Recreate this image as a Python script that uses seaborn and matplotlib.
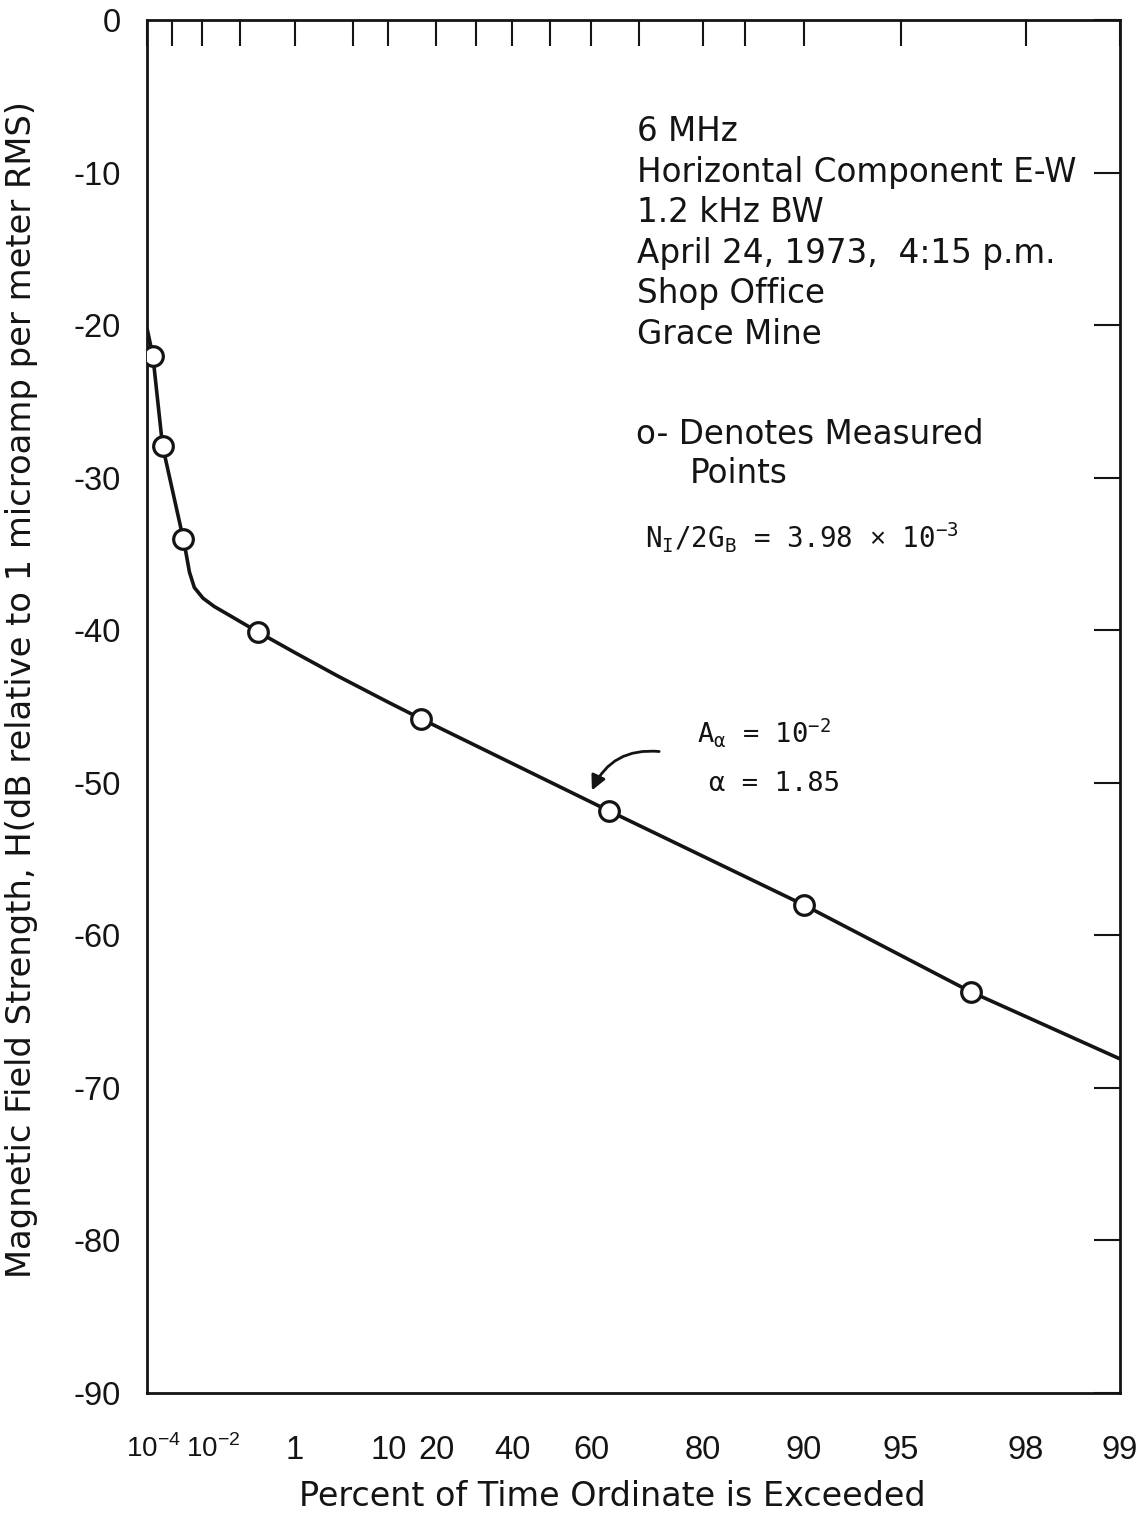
import numpy as np
import pandas as pd
import matplotlib
matplotlib.use("Agg")
import matplotlib.pyplot as plt
import matplotlib.transforms as mtransforms
import seaborn as sns

# ---- data -------------------------------------------------------------
# measured amplitude-probability points (percent of time exceeded, dB)
pct_measured = [1.8e-4, 4.5e-4, 2.6e-3, 0.23, 16.4, 64, 90, 97]
db_measured = [-22.0, -27.9, -34.0, -40.1, -45.8, -51.85, -58.0, -63.7]

# fitted APD curve
pct_curve = [1e-4, 1.8e-4, 4.5e-4, 2.6e-3, 3.2e-3, 4.2e-3, 6.0e-3, 1.1e-2,
             2.3e-2, 5.1e-2, 0.104, 0.23, 1, 3.5, 10, 16.4, 64, 90, 97, 99]
db_curve = [-20.2, -22.0, -27.9, -34.0, -34.9, -36.2, -37.2, -37.9,
            -38.45, -38.96, -39.47, -40.1, -41.47, -43.0, -44.72, -45.8,
            -51.85, -58.0, -63.7, -68.1]

# axis ticks
x_ticks = [1e-4, 1e-3, 1e-2, 1e-1, 1, 5, 10, 20, 30, 40, 50, 60, 70,
           80, 85, 90, 95, 98, 99]
x_labels = {1e-4: r"$10^{-4}$", 1e-2: r"$10^{-2}$", 1: "1", 10: "10",
            20: "20", 40: "40", 60: "60", 80: "80", 90: "90", 95: "95",
            98: "98", 99: "99"}
y_ticks = [0, -10, -20, -30, -40, -50, -60, -70, -80, -90]

info_lines = ["6 MHz", "Horizontal Component E-W", "1.2 kHz BW",
              "April 24, 1973,  4:15 p.m.", "Shop Office", "Grace Mine"]

# ---- style ------------------------------------------------------------
sns.set_style("white")
TICKFONT = "Liberation Sans"
plt.rcParams["font.family"] = ["DejaVu Sans"]
plt.rcParams["mathtext.fontset"] = "custom"
plt.rcParams["mathtext.rm"] = TICKFONT
plt.rcParams["mathtext.tt"] = "DejaVu Sans Mono"
plt.rcParams["mathtext.it"] = "DejaVu Sans Mono"

INK = "#141414"
W, H = 1141, 1513


def fx(px):
    return px / W


def fy(py):
    return 1 - py / H


# Rayleigh (log-log) probability scale for percent of time exceeded
def rayleigh_fwd(p):
    p = np.clip(np.asarray(p, dtype=float), 1e-12, 100 - 1e-9)
    return -np.log(-np.log(p / 100.0))


def rayleigh_inv(t):
    return 100.0 * np.exp(-np.exp(-np.asarray(t, dtype=float)))


fig = plt.figure(figsize=(W / 100, H / 100), dpi=100)
ax = fig.add_axes([fx(147), fy(1393), fx(1120 - 147), (1393 - 20) / H])
ax.set_xscale("function", functions=(rayleigh_fwd, rayleigh_inv))

curve = pd.DataFrame({"pct": pct_curve, "db": db_curve})
meas = pd.DataFrame({"pct": pct_measured, "db": db_measured})

sns.lineplot(data=curve, x="pct", y="db", ax=ax, color=INK, linewidth=2.6,
             sort=False, estimator=None)
sns.scatterplot(data=meas, x="pct", y="db", ax=ax, marker="o", s=200,
                facecolor="white", edgecolor=INK, linewidth=2.3, zorder=5)

ax.set_xlim(1e-4, 99)
ax.set_ylim(-90, 0)

ax.set_xticks(x_ticks)
ax.set_xticklabels([x_labels.get(t, "") for t in x_ticks])
ax.set_yticks(y_ticks)
ax.set_yticklabels([str(v) for v in y_ticks])
ax.minorticks_off()

ax.tick_params(axis="both", direction="in", length=19, width=1.5,
               color=INK, top=True, right=True)
ax.tick_params(axis="x", labelsize=23.5, pad=30, labelcolor=INK)
ax.tick_params(axis="y", labelsize=23.5, pad=19, labelcolor=INK)
for lab in ax.get_xticklabels() + ax.get_yticklabels():
    lab.set_fontfamily(TICKFONT)

# power-of-ten labels sit a little right of their ticks
shifts = {1e-4: 6, 1e-2: 12}
for t, lab in zip(x_ticks, ax.get_xticklabels()):
    if t in shifts:
        lab.set_fontsize(20)
        lab.set_transform(lab.get_transform() + mtransforms.ScaledTranslation(
            shifts[t] / 100, 0, fig.dpi_scale_trans))

for s in ax.spines.values():
    s.set_visible(True)
    s.set_linewidth(2.0)
    s.set_color(INK)

ax.set_xlabel("")
ax.set_ylabel("")

# axis titles
fig.text(fx(612), fy(1506), "Percent of Time Ordinate is Exceeded",
         ha="center", va="baseline", fontsize=24, color=INK)
fig.text(fx(22), fy(689),
         "Magnetic Field Strength, H(dB relative to 1 microamp per meter RMS)",
         ha="center", va="center", rotation=90, fontsize=24.3, color=INK)

# measurement conditions
for i, line in enumerate(info_lines):
    fig.text(fx(637), fy(141 + i * 40.6), line, ha="left", va="baseline",
             fontsize=23.5, color=INK)

fig.text(fx(636), fy(444), "o- Denotes Measured", ha="left", va="baseline",
         fontsize=23.5, color=INK)
fig.text(fx(690), fy(483), "Points", ha="left", va="baseline",
         fontsize=23.5, color=INK)

fig.text(fx(645), fy(548),
         r"N$_{\mathtt{I}}$/2G$_{\mathtt{B}}$ = 3.98 $\times$ 10$^{\mathtt{-3}}$",
         ha="left", va="baseline", fontsize=19.8, color=INK,
         family="DejaVu Sans Mono")

fig.text(fx(697), fy(742), r"A$_{\mathtt{α}}$ = 10$^{\mathtt{-2}}$",
         ha="left", va="baseline", fontsize=19.5, color=INK,
         family="DejaVu Sans Mono")
fig.text(fx(709), fy(791), "α = 1.85", ha="left", va="baseline",
         fontsize=19.5, color=INK, family="DejaVu Sans Mono")

ax.annotate("", xy=(60.2, -50.5), xytext=(73.5, -47.95),
            arrowprops=dict(arrowstyle="-|>", color=INK, lw=2.0,
                            mutation_scale=22,
                            connectionstyle="arc3,rad=0.35",
                            shrinkA=0, shrinkB=0))

fig.savefig("out.png", dpi=100, facecolor="white")
